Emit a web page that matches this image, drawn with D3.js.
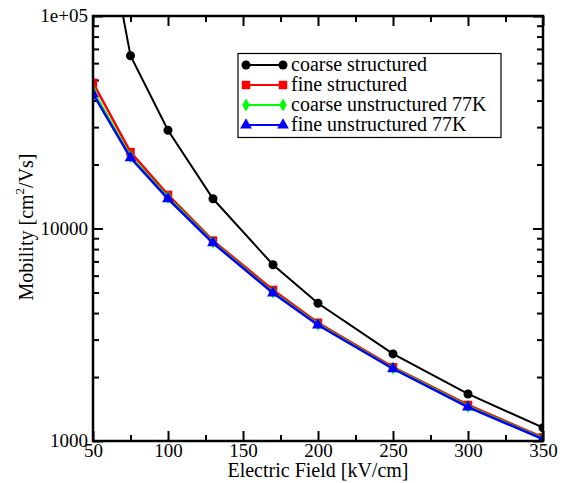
<!DOCTYPE html>
<html><head><meta charset="utf-8">
<script src="https://cdn.jsdelivr.net/npm/d3@7"></script>
<style>body{margin:0;background:#fff}svg{display:block}text{font-family:"Liberation Serif","DejaVu Serif",serif;}</style>
</head><body><div id="chart"></div>
<script>
const fields = [50, 75, 100, 130, 170, 200, 250, 300, 350];
const coarseStructured = [560000, 65000, 29000, 13800, 6750, 4450, 2570, 1665, 1155];
const fineStructured = [48500, 22900, 14400, 8770, 5140, 3600, 2225, 1478, 1040];
const coarseUnstructured = [44500, 21800, 14000, 8620, 5010, 3540, 2200, 1455, 1028];
const fineUnstructured = [43000, 21500, 13800, 8550, 4970, 3515, 2188, 1445, 1020];
const seriesNames = ["coarse structured", "fine structured", "coarse unstructured 77K", "fine unstructured 77K"];
const seriesColors = ["#000000", "#ff0000", "#00ff00", "#0000ff"];
const seriesSymbols = ["circle", "square", "diamond", "triangle"];
const xTicks = [50, 100, 150, 200, 250, 300, 350];
const xMinorTicks = [75, 125, 175, 225, 275, 325];
const yTicks = [1000, 10000, 100000];
const yTickLabels = ["1000", "10000", "1e+05"];

const W = 566, H = 483;
const m = {l: 93, r: 23, t: 16, b: 42};
const svg = d3.select("#chart").append("svg").attr("width", W).attr("height", H);
const x = d3.scaleLinear().domain([50, 350]).range([m.l, W - m.r]);
const y = d3.scaleLog().domain([1000, 100000]).range([H - m.b, m.t]);

svg.append("defs").append("clipPath").attr("id", "clip")
  .append("rect").attr("x", m.l).attr("y", m.t).attr("width", W - m.r - m.l).attr("height", H - m.b - m.t);

const yMinor = [];
for (let d = 1000; d < 100000; d *= 10) for (let k = 2; k <= 9; k++) yMinor.push(d * k);

const fs = 20, tfs = 19, lfs = 20;
function axisGroup(axisFn, transform, ticks, size, labels) {
  const a = axisFn.tickValues(ticks).tickSizeInner(size).tickSizeOuter(0);
  a.tickFormat(labels ? (d, i) => labels[i] : "");
  const g = svg.append("g").attr("transform", transform).call(a);
  g.select(".domain").remove();
  g.selectAll("line").attr("stroke", "#000").attr("stroke-width", 2);
  g.selectAll("text").attr("font-size", tfs).attr("fill", "#000");
  return g;
}
axisGroup(d3.axisBottom(x), `translate(0,${H - m.b})`, xTicks, -10, xTicks.map(String))
  .selectAll("text").attr("y", 2).attr("dy", "0.71em");
axisGroup(d3.axisBottom(x), `translate(0,${H - m.b})`, xMinorTicks, -6, null);
axisGroup(d3.axisTop(x), `translate(0,${m.t})`, xTicks, -10, null);
axisGroup(d3.axisTop(x), `translate(0,${m.t})`, xMinorTicks, -6, null);
axisGroup(d3.axisLeft(y), `translate(${m.l},0)`, yTicks, -10, yTickLabels)
  .selectAll("text").attr("x", -5).attr("dy", "0.3em");
axisGroup(d3.axisLeft(y), `translate(${m.l},0)`, yMinor, -6, null);
axisGroup(d3.axisRight(y), `translate(${W - m.r},0)`, yTicks, -10, null);
axisGroup(d3.axisRight(y), `translate(${W - m.r},0)`, yMinor, -6, null);

const allSeries = [coarseStructured, fineStructured, coarseUnstructured, fineUnstructured];
const symTypes = {circle: d3.symbolCircle, square: d3.symbolSquare, diamond: d3.symbolDiamond, triangle: d3.symbolTriangle};
const symSizes = {circle: 64, square: 72, diamond: 50, triangle: 60};
const line = d3.line().x((d, i) => x(fields[i])).y(d => y(d));
const plot = svg.append("g").attr("clip-path", "url(#clip)");
allSeries.forEach((vals, si) => {
  plot.append("path").datum(vals).attr("d", line).attr("fill", "none")
    .attr("stroke", seriesColors[si]).attr("stroke-width", si === 0 ? 2 : 2.5);
  plot.selectAll(null).data(vals).enter().append("path")
    .attr("transform", (d, i) => `translate(${x(fields[i])},${y(d)})`)
    .attr("d", d3.symbol().type(symTypes[seriesSymbols[si]]).size(symSizes[seriesSymbols[si]]))
    .attr("fill", seriesColors[si]);
});

svg.append("rect").attr("x", m.l).attr("y", m.t).attr("width", W - m.r - m.l).attr("height", H - m.b - m.t)
  .attr("fill", "none").attr("stroke", "#000").attr("stroke-width", 2.5);

const lg = svg.append("g");
lg.append("rect").attr("x", 238).attr("y", 53.5).attr("width", 263).attr("height", 84)
  .attr("fill", "#fff").attr("stroke", "#000").attr("stroke-width", 1.2);
seriesNames.forEach((name, i) => {
  const cy = 65 + i * 20;
  lg.append("line").attr("x1", 246).attr("x2", 283).attr("y1", cy).attr("y2", cy)
    .attr("stroke", seriesColors[i]).attr("stroke-width", 2);
  [246, 283].forEach(cx => lg.append("path").attr("transform", `translate(${cx},${cy})`)
    .attr("d", d3.symbol().type(symTypes[seriesSymbols[i]]).size(symSizes[seriesSymbols[i]]))
    .attr("fill", seriesColors[i]));
  lg.append("text").attr("x", 291).attr("y", cy).attr("dy", "0.32em").attr("font-size", lfs).text(name);
});

svg.append("text").attr("x", (m.l + W - m.r) / 2).attr("y", 477).attr("text-anchor", "middle")
  .attr("font-size", fs).text("Electric Field [kV/cm]");
const yt = svg.append("text").attr("transform", `translate(33,227) rotate(-90)`)
  .attr("text-anchor", "middle").attr("font-size", fs);
yt.append("tspan").text("Mobility [cm");
yt.append("tspan").attr("font-size", 13).attr("dy", -9).text("2");
yt.append("tspan").attr("dy", 9).text("/Vs]");
</script></body></html>
